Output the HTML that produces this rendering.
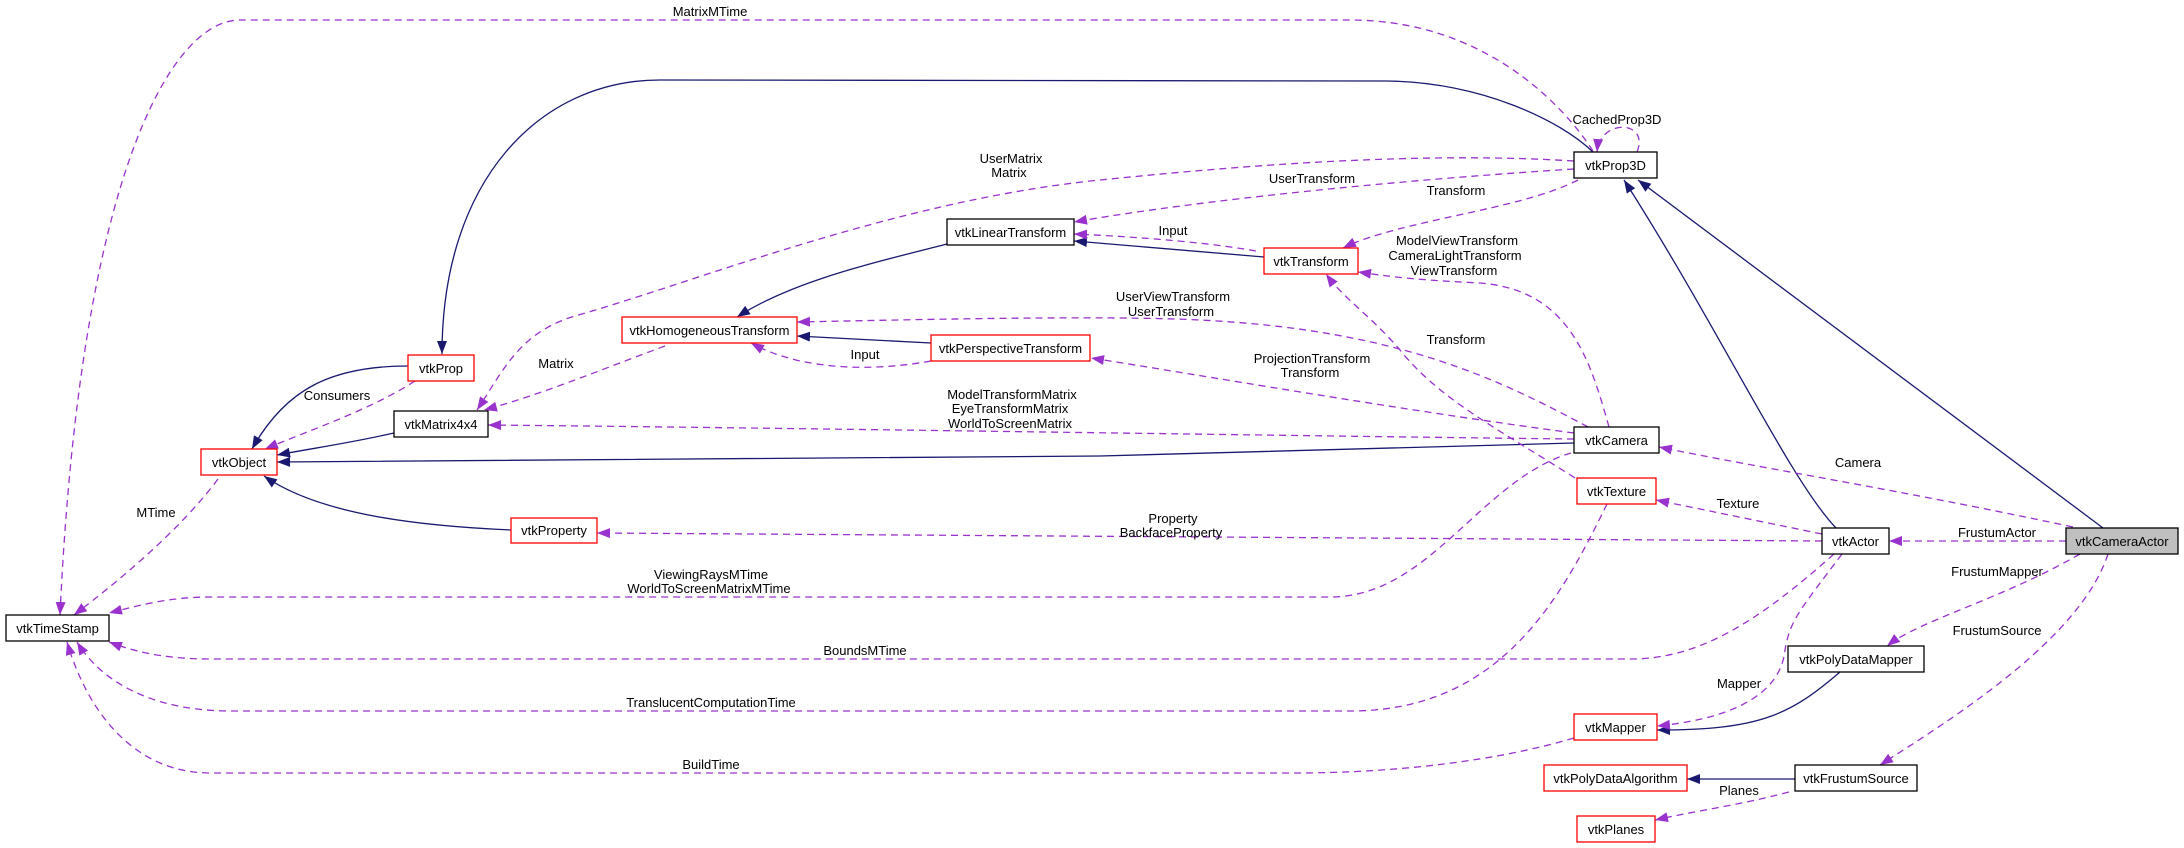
<!DOCTYPE html>
<html><head><meta charset="utf-8"><style>
html,body{margin:0;padding:0;background:#fff;}
svg{display:block;}
text{font-family:"Liberation Sans",sans-serif;font-size:13px;fill:#000;}
.n text{text-anchor:middle;}
.l{text-anchor:middle;}
.s{fill:none;stroke:#191970;stroke-width:1.3;}
.d{fill:none;stroke:#9a32cd;stroke-width:1.3;stroke-dasharray:7,5;}
</style></head><body>
<svg width="2184" height="848" viewBox="0 0 2184 848" xmlns="http://www.w3.org/2000/svg">
<defs>
<marker id="an" markerWidth="14" markerHeight="10" refX="13" refY="5" orient="auto" markerUnits="userSpaceOnUse"><path d="M0,0 L13,5 L0,10 z" fill="#191970"/></marker>
<marker id="ap" markerWidth="14" markerHeight="10" refX="13" refY="5" orient="auto" markerUnits="userSpaceOnUse"><path d="M0,0 L13,5 L0,10 z" fill="#9a32cd"/></marker>
</defs>

<!-- solid inheritance edges -->
<g class="s" marker-end="url(#an)">
<path d="M1593,152 C1560,120 1480,82 1386,81 L660,80 C540,80 442,180 442,354"/>
<path d="M408,366 C330,366 285,390 252,449"/>
<path d="M394,433 C350,443 320,447 277,455"/>
<path d="M1574,443 L1100,456 L277,462"/>
<path d="M511,530 C420,526 320,515 264,476"/>
<path d="M947,244 C860,266 790,283 737,317"/>
<path d="M931,343 L797,336"/>
<path d="M1264,257 L1074,241"/>
<path d="M1836,528 C1790,480 1720,330 1624,180"/>
<path d="M2103,528 L1638,180"/>
<path d="M1840,672 C1790,715 1760,730 1657,730"/>
<path d="M1795,779 L1687,779"/>
</g>

<!-- dashed usage edges -->
<g class="d" marker-end="url(#ap)">
<path d="M1593,151 C1560,100 1480,20 1350,20 L240,20 C170,20 80,180 60,615"/>
<path d="M1637,152 C1650,120 1600,118 1597,152"/>
<path d="M1574,161 C1400,150 1200,170 1100,180 C900,200 700,280 582,314 C520,330 505,368 477,410"/>
<path d="M1574,169 C1400,180 1200,200 1074,222"/>
<path d="M1578,180 C1520,210 1400,220 1343,248"/>
<path d="M1256,251 C1200,241 1120,236 1074,234"/>
<path d="M1609,427 C1590,360 1570,290 1480,283 C1420,280 1400,278 1358,272"/>
<path d="M1588,427 C1500,380 1400,330 1200,320 C1100,315 900,320 797,322"/>
<path d="M1574,433 C1400,410 1200,375 1091,358"/>
<path d="M1574,439 C1300,436 800,428 488,425"/>
<path d="M1575,478 C1500,430 1440,400 1400,350 C1370,315 1345,300 1326,274"/>
<path d="M1571,453 C1480,480 1430,597 1330,597 L210,597 C170,597 140,605 109,613"/>
<path d="M1822,541 L597,533"/>
<path d="M1822,534 L1656,500"/>
<path d="M2073,527 C1900,490 1760,468 1659,447"/>
<path d="M2066,541 L1889,541"/>
<path d="M1834,554 C1760,620 1700,659 1631,659 L210,659 C160,659 130,650 109,642"/>
<path d="M1607,504 C1560,600 1500,711 1350,711 L231,711 C150,711 100,680 77,642"/>
<path d="M1574,738 C1500,760 1400,773 1294,773 L210,773 C140,773 90,720 67,642"/>
<path d="M1842,554 C1800,610 1790,620 1785,650 C1780,700 1720,720 1657,726"/>
<path d="M2080,554 C2000,600 1920,620 1887,646"/>
<path d="M2108,554 C2080,640 1950,720 1880,765"/>
<path d="M1789,792 C1740,805 1700,810 1655,820"/>
<path d="M218,479 C180,530 120,580 74,615"/>
<path d="M415,381 C370,410 310,430 265,449"/>
<path d="M665,346 C600,370 540,395 484,410"/>
<path d="M931,361 C870,372 800,370 751,343"/>
</g>

<!-- labels -->
<g>
<text class="l" x="710" y="16">MatrixMTime</text>
<text class="l" x="1617" y="124">CachedProp3D</text>
<text class="l" x="1011" y="163">UserMatrix</text>
<text class="l" x="1009" y="177">Matrix</text>
<text class="l" x="1312" y="183">UserTransform</text>
<text class="l" x="1456" y="195">Transform</text>
<text class="l" x="1173" y="235">Input</text>
<text class="l" x="1457" y="245">ModelViewTransform</text>
<text class="l" x="1455" y="260">CameraLightTransform</text>
<text class="l" x="1454" y="275">ViewTransform</text>
<text class="l" x="1173" y="301">UserViewTransform</text>
<text class="l" x="1171" y="316">UserTransform</text>
<text class="l" x="1456" y="344">Transform</text>
<text class="l" x="1312" y="363">ProjectionTransform</text>
<text class="l" x="1310" y="377">Transform</text>
<text class="l" x="865" y="359">Input</text>
<text class="l" x="556" y="368">Matrix</text>
<text class="l" x="337" y="400">Consumers</text>
<text class="l" x="1012" y="399">ModelTransformMatrix</text>
<text class="l" x="1010" y="413">EyeTransformMatrix</text>
<text class="l" x="1010" y="428">WorldToScreenMatrix</text>
<text class="l" x="1858" y="467">Camera</text>
<text class="l" x="1738" y="508">Texture</text>
<text class="l" x="156" y="517">MTime</text>
<text class="l" x="1173" y="523">Property</text>
<text class="l" x="1171" y="537">BackfaceProperty</text>
<text class="l" x="1997" y="537">FrustumActor</text>
<text class="l" x="1997" y="576">FrustumMapper</text>
<text class="l" x="711" y="579">ViewingRaysMTime</text>
<text class="l" x="709" y="593">WorldToScreenMatrixMTime</text>
<text class="l" x="1997" y="635">FrustumSource</text>
<text class="l" x="865" y="655">BoundsMTime</text>
<text class="l" x="1739" y="688">Mapper</text>
<text class="l" x="711" y="707">TranslucentComputationTime</text>
<text class="l" x="711" y="769">BuildTime</text>
<text class="l" x="1739" y="795">Planes</text>
</g>

<!-- nodes -->
<g class="n">
<rect x="6" y="615" width="103" height="26" fill="#fff" stroke="#000" stroke-width="1.3"/><text x="57.5" y="633">vtkTimeStamp</text>
<rect x="201" y="449" width="76" height="26" fill="#fff" stroke="#f00" stroke-width="1.3"/><text x="239" y="467">vtkObject</text>
<rect x="408" y="355" width="66" height="26" fill="#fff" stroke="#f00" stroke-width="1.3"/><text x="441" y="373">vtkProp</text>
<rect x="394" y="411" width="94" height="26" fill="#fff" stroke="#000" stroke-width="1.3"/><text x="441" y="429">vtkMatrix4x4</text>
<rect x="511" y="518" width="86" height="25" fill="#fff" stroke="#f00" stroke-width="1.3"/><text x="554" y="535">vtkProperty</text>
<rect x="622" y="317" width="175" height="26" fill="#fff" stroke="#f00" stroke-width="1.3"/><text x="709.5" y="335">vtkHomogeneousTransform</text>
<rect x="947" y="219" width="127" height="26" fill="#fff" stroke="#000" stroke-width="1.3"/><text x="1010.5" y="237">vtkLinearTransform</text>
<rect x="931" y="335" width="159" height="26" fill="#fff" stroke="#f00" stroke-width="1.3"/><text x="1010.5" y="353">vtkPerspectiveTransform</text>
<rect x="1574" y="152" width="83" height="26" fill="#fff" stroke="#000" stroke-width="1.3"/><text x="1615.5" y="170">vtkProp3D</text>
<rect x="1264" y="248" width="94" height="26" fill="#fff" stroke="#f00" stroke-width="1.3"/><text x="1311" y="266">vtkTransform</text>
<rect x="1574" y="427" width="85" height="26" fill="#fff" stroke="#000" stroke-width="1.3"/><text x="1616.5" y="445">vtkCamera</text>
<rect x="1577" y="478" width="79" height="26" fill="#fff" stroke="#f00" stroke-width="1.3"/><text x="1616.5" y="496">vtkTexture</text>
<rect x="1822" y="528" width="67" height="26" fill="#fff" stroke="#000" stroke-width="1.3"/><text x="1855.5" y="546">vtkActor</text>
<rect x="2066" y="528" width="112" height="26" fill="#bfbfbf" stroke="#000" stroke-width="1.3"/><text x="2122" y="546">vtkCameraActor</text>
<rect x="1788" y="646" width="136" height="26" fill="#fff" stroke="#000" stroke-width="1.3"/><text x="1856" y="664">vtkPolyDataMapper</text>
<rect x="1574" y="714" width="83" height="26" fill="#fff" stroke="#f00" stroke-width="1.3"/><text x="1615.5" y="732">vtkMapper</text>
<rect x="1544" y="765" width="143" height="26" fill="#fff" stroke="#f00" stroke-width="1.3"/><text x="1615.5" y="783">vtkPolyDataAlgorithm</text>
<rect x="1795" y="765" width="122" height="26" fill="#fff" stroke="#000" stroke-width="1.3"/><text x="1856" y="783">vtkFrustumSource</text>
<rect x="1577" y="816" width="78" height="26" fill="#fff" stroke="#f00" stroke-width="1.3"/><text x="1616" y="834">vtkPlanes</text>
</g>
</svg>
</body></html>
